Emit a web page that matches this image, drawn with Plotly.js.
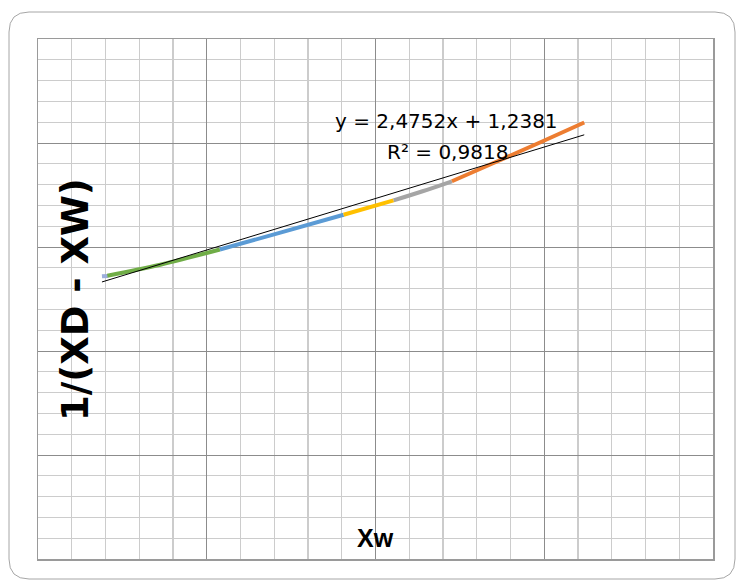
<!DOCTYPE html>
<html>
<head>
<meta charset="utf-8">
<script src="https://cdn.plot.ly/plotly-3.0.1.min.js"></script>
<style>html,body{margin:0;padding:0;background:#fff;}#chart{width:737px;height:583px;}</style>
</head>
<body>
<div id="chart"></div>
<script>
// Series (Xw vs 1/(XD - XW))
var s1x = [0.0379, 0.0415];
var s1y = [1.359, 1.361];
var s2x = [0.0411, 0.0725, 0.1078];
var s2y = [1.362, 1.415, 1.488];
var s3x = [0.1078, 0.1436, 0.1811];
var s3y = [1.488, 1.569, 1.655];
var s4x = [0.1811, 0.2107];
var s4y = [1.655, 1.724];
var s5x = [0.2107, 0.2279, 0.2453];
var s5y = [1.724, 1.768, 1.816];
var s6x = [0.2453, 0.2720, 0.2981, 0.3237];
var s6y = [1.816, 1.911, 2.005, 2.0986];
// Trendline from the equation shown on the chart
var slope = 2.4752;
var intercept = 1.2381;
var r2 = "0,9818";
var trendX = [0.0379, 0.3237];
var trendY = trendX.map(function(x){ return slope * x + intercept; });

var colors = ['#9DAEDC', '#70AD47', '#5B9BD5', '#FFC000', '#A5A5A5', '#ED7D31'];
var xs = [s1x, s2x, s3x, s4x, s5x, s6x];
var ys = [s1y, s2y, s3y, s4y, s5y, s6y];
var traces = [];
for (var i = 0; i < xs.length; i++) {
  traces.push({x: xs[i], y: ys[i], type: 'scatter', mode: 'lines',
    line: {color: colors[i], width: 4, shape: 'spline'}, hoverinfo: 'skip'});
}
traces.push({x: trendX, y: trendY, type: 'scatter', mode: 'lines',
  line: {color: '#000000', width: 1}, hoverinfo: 'skip'});

var L = 38, R = 24, T = 39, B = 24, W = 737, H = 583;
var pw = W - L - R, ph = H - T - B;
function px(v){ return (v - L) / pw; }
function py(v){ return (H - B - v) / ph; }
var x0 = px(9), x1 = px(735), y0 = py(579), y1 = py(12);
var rx = 20 / pw, ry = 20 / ph;
var path = 'M ' + (x0 + rx) + ' ' + y1 +
  ' L ' + (x1 - rx) + ' ' + y1 +
  ' Q ' + x1 + ' ' + y1 + ' ' + x1 + ' ' + (y1 - ry) +
  ' L ' + x1 + ' ' + (y0 + ry) +
  ' Q ' + x1 + ' ' + y0 + ' ' + (x1 - rx) + ' ' + y0 +
  ' L ' + (x0 + rx) + ' ' + y0 +
  ' Q ' + x0 + ' ' + y0 + ' ' + x0 + ' ' + (y0 + ry) +
  ' L ' + x0 + ' ' + (y1 - ry) +
  ' Q ' + x0 + ' ' + y1 + ' ' + (x0 + rx) + ' ' + y1 + ' Z';

var layout = {
  width: W, height: H,
  margin: {l: L, r: R, t: T, b: B, pad: 0},
  paper_bgcolor: '#ffffff', plot_bgcolor: '#ffffff',
  showlegend: false,
  xaxis: {range: [0, 0.4], dtick: 0.1, tick0: 0, showticklabels: false, ticks: '',
    showgrid: true, gridcolor: '#8C8C8C', gridwidth: 1, zeroline: false,
    showline: true, mirror: true, linecolor: '#9A9A9A', linewidth: 1.5,
    minor: {dtick: 0.02, showgrid: true, gridcolor: '#CCCCCC', gridwidth: 1.3, ticks: ''},
    fixedrange: true},
  yaxis: {range: [0, 2.5], dtick: 0.5, tick0: 0, showticklabels: false, ticks: '',
    showgrid: true, gridcolor: '#8C8C8C', gridwidth: 1, zeroline: false,
    showline: true, mirror: true, linecolor: '#9A9A9A', linewidth: 1.5,
    minor: {dtick: 0.1, showgrid: true, gridcolor: '#CCCCCC', gridwidth: 1.3, ticks: ''},
    fixedrange: true},
  shapes: [{type: 'path', xref: 'paper', yref: 'paper', path: path,
    line: {color: '#A6A6A6', width: 1}, fillcolor: 'rgba(0,0,0,0)', layer: 'below'}],
  annotations: [
    {xref: 'paper', yref: 'paper', x: px(446), y: py(121), showarrow: false,
     text: 'y = ' + String(slope).replace('.', ',') + 'x + ' + String(intercept).replace('.', ','),
     font: {family: 'DejaVu Sans', size: 20, color: '#000'}, xanchor: 'center', yanchor: 'middle'},
    {xref: 'paper', yref: 'paper', x: px(447), y: py(152), showarrow: false,
     text: 'R² = ' + r2,
     font: {family: 'DejaVu Sans', size: 20, color: '#000'}, xanchor: 'center', yanchor: 'middle'},
    {xref: 'paper', yref: 'paper', x: px(75), y: py(300), showarrow: false,
     text: '<b>1/(XD - XW)</b>', textangle: -90,
     font: {family: 'DejaVu Sans', size: 37, color: '#000'}, xanchor: 'center', yanchor: 'middle'},
    {xref: 'paper', yref: 'paper', x: px(375), y: py(538), showarrow: false,
     text: '<b>Xw</b>',
     font: {family: 'Liberation Sans', size: 25, color: '#000'}, xanchor: 'center', yanchor: 'middle'}
  ]
};
Plotly.newPlot('chart', traces, layout, {staticPlot: true, displayModeBar: false});
</script>
</body>
</html>
